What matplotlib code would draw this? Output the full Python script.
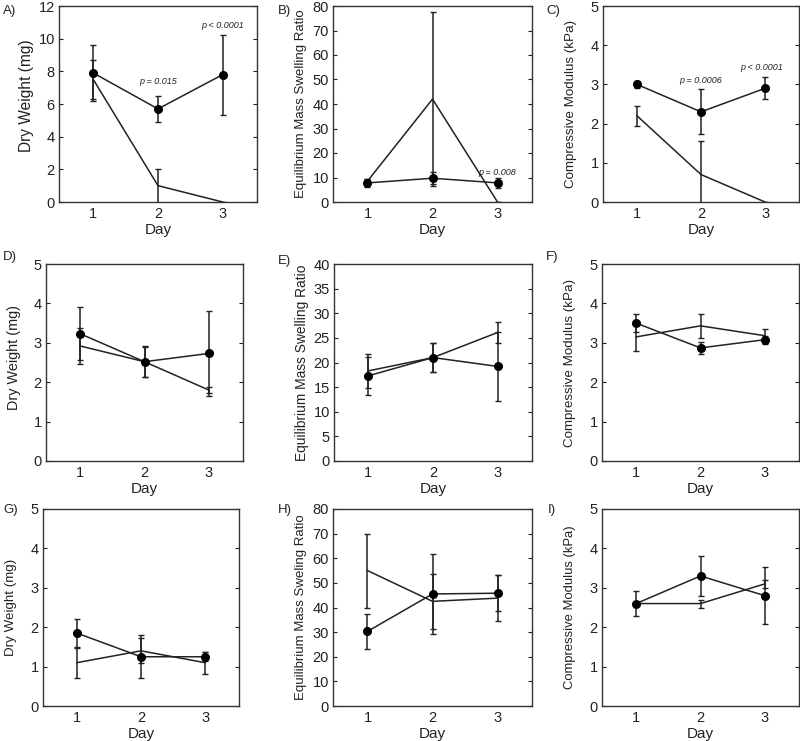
import matplotlib
matplotlib.use("Agg")
import matplotlib.pyplot as plt

plt.rcParams['font.family'] = ['Liberation Sans', 'DejaVu Sans']

days = [1, 2, 3]

# Panel A
a_circ = [7.9, 5.7, 7.8]
a_circ_err = [1.7, 0.8, 2.45]
a_line = [7.5, 1.0, 0.0]
a_line_err = [1.2, 1.05, 0.0]
# Panel B
b_circ = [7.8, 9.7, 7.8]
b_circ_err = [1.5, 2.5, 2.2]
b_line = [8.5, 42.0, 0.0]
b_line_err = [1.0, 35.5, 0.0]
# Panel C
c_circ = [3.0, 2.3, 2.9]
c_circ_err = [0.08, 0.57, 0.28]
c_line = [2.2, 0.7, 0.0]
c_line_err = [0.25, 0.85, 0.0]
# Panel D
d_circ = [3.23, 2.52, 2.73]
d_circ_err = [0.67, 0.40, 1.08]
d_line = [2.92, 2.52, 1.80]
d_line_err = [0.45, 0.38, 0.07]
# Panel E
e_circ = [17.3, 21.0, 19.2]
e_circ_err = [3.9, 3.0, 7.0]
e_line = [18.3, 21.0, 26.1]
e_line_err = [3.4, 3.0, 2.1]
# Panel F
f_circ = [3.5, 2.87, 3.08]
f_circ_err = [0.22, 0.16, 0.10]
f_line = [3.15, 3.43, 3.18]
f_line_err = [0.37, 0.30, 0.17]
# Panel G
g_circ = [1.85, 1.25, 1.25]
g_circ_err = [0.37, 0.55, 0.12]
g_line = [1.10, 1.40, 1.10]
g_line_err = [0.40, 0.32, 0.28]
# Panel H
h_circ = [30.3, 45.5, 45.8]
h_circ_err = [7.0, 16.3, 7.2]
h_line = [55.0, 42.5, 43.8]
h_line_err = [15.0, 11.2, 9.2]
# Panel I
i_circ = [2.6, 3.3, 2.8]
i_circ_err = [0.32, 0.51, 0.73]
i_line = [2.6, 2.6, 3.1]
i_line_err = [0.04, 0.10, 0.10]

ylab_dw = "Dry Weight (mg)"
ylab_sw = "Equilibrium Mass Swelling Ratio"
ylab_sw2 = "Equilibrium Mass Sweling Ratio"
ylab_cm = "Compressive Modulus (kPa)"

panels = [
    ("A)", a_circ, a_circ_err, a_line, a_line_err, ylab_dw, 12, 2,
     [(2, 7.35, "p = 0.015"), (3, 10.78, "p < 0.0001")]),
    ("B)", b_circ, b_circ_err, b_line, b_line_err, ylab_sw, 80, 10,
     [(3.0, 12.2, "p = 0.008")]),
    ("C)", c_circ, c_circ_err, c_line, c_line_err, ylab_cm, 5, 1,
     [(2, 3.11, "p = 0.0006"), (2.95, 3.42, "p < 0.0001")]),
    ("D)", d_circ, d_circ_err, d_line, d_line_err, ylab_dw, 5, 1, []),
    ("E)", e_circ, e_circ_err, e_line, e_line_err, ylab_sw, 40, 5, []),
    ("F)", f_circ, f_circ_err, f_line, f_line_err, ylab_cm, 5, 1, []),
    ("G)", g_circ, g_circ_err, g_line, g_line_err, ylab_dw, 5, 1, []),
    ("H)", h_circ, h_circ_err, h_line, h_line_err, ylab_sw2, 80, 10, []),
    ("I)", i_circ, i_circ_err, i_line, i_line_err, ylab_cm, 5, 1, []),
]
ylab_sizes = [11.2, 9.5, 9.6, 10.4, 9.9, 9.6, 9.6, 9.5, 9.4]
ylab_center = [0.543, 0.5, 0.5, 0.525, 0.5, 0.5, 0.5, 0.5, 0.5]

W, H = 800, 741
# axes boxes in pixels: left, right, top, bottom
boxes = [
    (59, 257, 6, 202), (333, 532, 6, 202), (603, 799, 6, 202),
    (46, 243, 264, 461), (334, 532, 264, 461), (602, 799, 264, 461),
    (43, 239, 509, 706), (333, 532, 509, 706), (602, 799, 509, 706),
]
label_pos = [(3, 11), (278, 11), (546, 11),
             (3, 257), (278, 261), (546, 257),
             (3, 510), (278, 510), (548, 510)]

fig = plt.figure(figsize=(8.0, 7.41), dpi=100)
col = '#222222'
for (lab, yc, ec, yl, el, ylabel, ymax, ystep, notes), (l, r, t, b), (lx, ly), ys, yctr in zip(
        panels, boxes, label_pos, ylab_sizes, ylab_center):
    wpx, hpx = r - l, b - t
    ax = fig.add_axes([l / W, 1 - b / H, wpx / W, hpx / H])
    ax.errorbar(days, yl, yerr=el, color=col, lw=1.1, capsize=2, elinewidth=1.1,
                capthick=1.0, marker=None)
    ax.errorbar(days, yc, yerr=ec, color=col, lw=1.1, capsize=2, elinewidth=1.1,
                capthick=1.0, marker='o', markersize=5.5, markerfacecolor='black',
                markeredgecolor='black')
    ax.set_xlim(0.47, 3.53)
    ax.set_ylim(0, ymax)
    ax.set_xticks(days)
    ax.set_yticks(list(range(0, ymax + 1, ystep)))
    ax.tick_params(axis='y', direction='in', length=3, right=True, labelsize=10.5,
                   colors=col, pad=3)
    ax.tick_params(axis='x', length=0, labelsize=10.5, pad=3.5, colors=col)
    for s in ax.spines.values():
        s.set_color('#333333')
        s.set_linewidth(1.0)
    ax.set_xlabel("Day", fontsize=11, color=col, va='center')
    ax.xaxis.set_label_coords(0.5, -28 / hpx)
    ax.set_ylabel(ylabel, fontsize=ys, color=col, va='center')
    ax.yaxis.set_label_coords(-32 / wpx, yctr)
    for (x, y, txt) in notes:
        ax.text(x, y, txt, fontsize=6.5, style='italic', ha='center', va='center', color=col)
    fig.text(lx / W, 1 - ly / H, lab, fontsize=9.5, ha='left', va='center', color=col)

fig.savefig("out.png", dpi=100)
